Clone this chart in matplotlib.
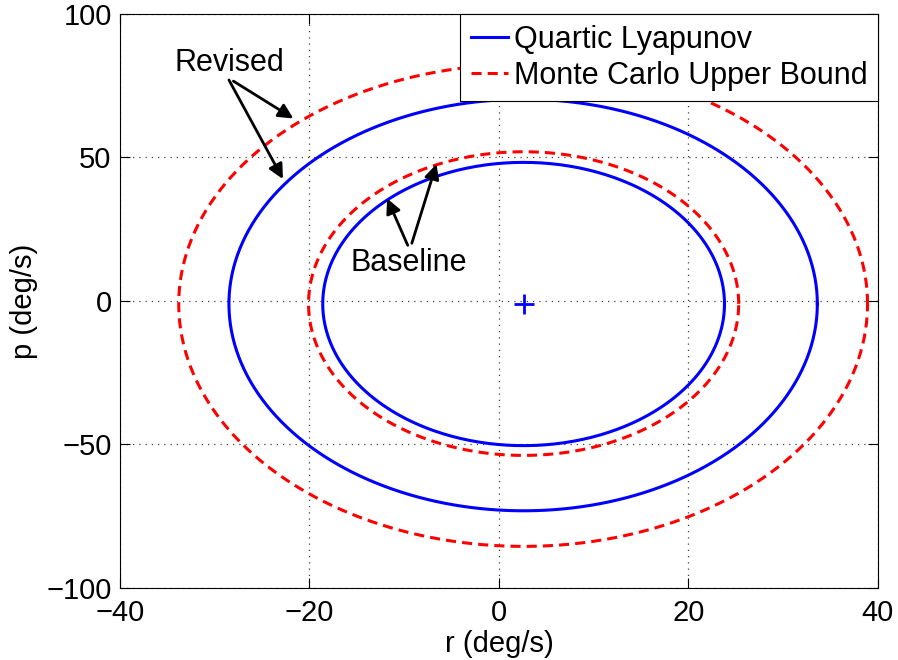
import numpy as np
import matplotlib
matplotlib.use("Agg")
import matplotlib.pyplot as plt

# region boundaries: [left, right, bottom, top] in deg/s
center = [2.6, -1.0]
lyap_baseline = [-18.6, 23.8, -50.4, 48.3]
lyap_revised = [-28.5, 33.6, -73.1, 70.3]
mc_baseline = [-20.1, 25.3, -53.8, 52.0]
mc_revised = [-33.8, 38.9, -85.5, 82.5]

xticks = [-40, -20, 0, 20, 40]
yticks = [-100, -50, 0, 50, 100]

plt.rcParams['font.family'] = ['Liberation Sans', 'DejaVu Sans']
plt.rcParams['font.size'] = 21


def region(ext, c=center, n=400):
    # closed curve through the four extreme points, one quarter ellipse per quadrant
    t = np.linspace(0, 2 * np.pi, n)
    u, v = np.cos(t), np.sin(t)
    rx = np.where(u >= 0, ext[1] - c[0], c[0] - ext[0])
    ry = np.where(v >= 0, ext[3] - c[1], c[1] - ext[2])
    return c[0] + rx * u, c[1] + ry * v


fig = plt.figure(figsize=(8.98, 6.60), dpi=100)
ax = fig.add_axes([0.1336, 0.1091, 0.8441, 0.8697])

blue = '#0000ff'
red = '#ff0000'
dash = (0, (3.3, 2.0))

x, y = region(lyap_baseline)
ax.plot(x, y, color=blue, lw=2.2, label='Quartic Lyapunov')
x, y = region(mc_baseline)
ax.plot(x, y, color=red, lw=2.2, linestyle=dash, label='Monte Carlo Upper Bound')
x, y = region(lyap_revised)
ax.plot(x, y, color=blue, lw=2.2)
x, y = region(mc_revised)
ax.plot(x, y, color=red, lw=2.2, linestyle=dash)

ax.plot(center[0], center[1], '+', color=blue, ms=14, mew=2)

arrow = dict(arrowstyle='-|>', color='black', lw=2, mutation_scale=22, shrinkA=0, shrinkB=0)
ax.annotate('Revised', xy=(-21.7, 63.6), xytext=(-28.5, 82.8), ha='center', va='center',
            fontsize=22, arrowprops=dict(arrow, relpos=(0.5, 0.0)))
ax.annotate('', xy=(-22.8, 42.5), xytext=(-28.5, 77.0), arrowprops=arrow)
ax.annotate('Baseline', xy=(-11.8, 35.7), xytext=(-9.5, 13.2), ha='center', va='center',
            fontsize=22, arrowprops=dict(arrow, relpos=(0.5, 1.0)))
ax.annotate('', xy=(-6.6, 47.7), xytext=(-9.2, 20.1), arrowprops=arrow)

ax.set_xlim(-40, 40)
ax.set_ylim(-100, 100)
ax.set_xticks(xticks)
ax.set_yticks(yticks)
ax.grid(True, linestyle=(0, (1, 4)), color='#404040', lw=0.9)
ax.tick_params(direction='in', length=7, width=0.8, top=True, right=True, pad=6)
ax.tick_params(axis='x', pad=8)
for s in ax.spines.values():
    s.set_linewidth(0.8)

ax.set_xlabel('r (deg/s)', labelpad=2)
ax.set_ylabel('p (deg/s)', labelpad=6)

leg = ax.legend(loc='upper right', borderaxespad=0, fancybox=False, framealpha=1,
                edgecolor='black', handlelength=1.2, handletextpad=0.2,
                borderpad=0.35, labelspacing=0.2, fontsize=22)
leg.get_frame().set_linewidth(0.8)

fig.savefig('out.png', dpi=100)
